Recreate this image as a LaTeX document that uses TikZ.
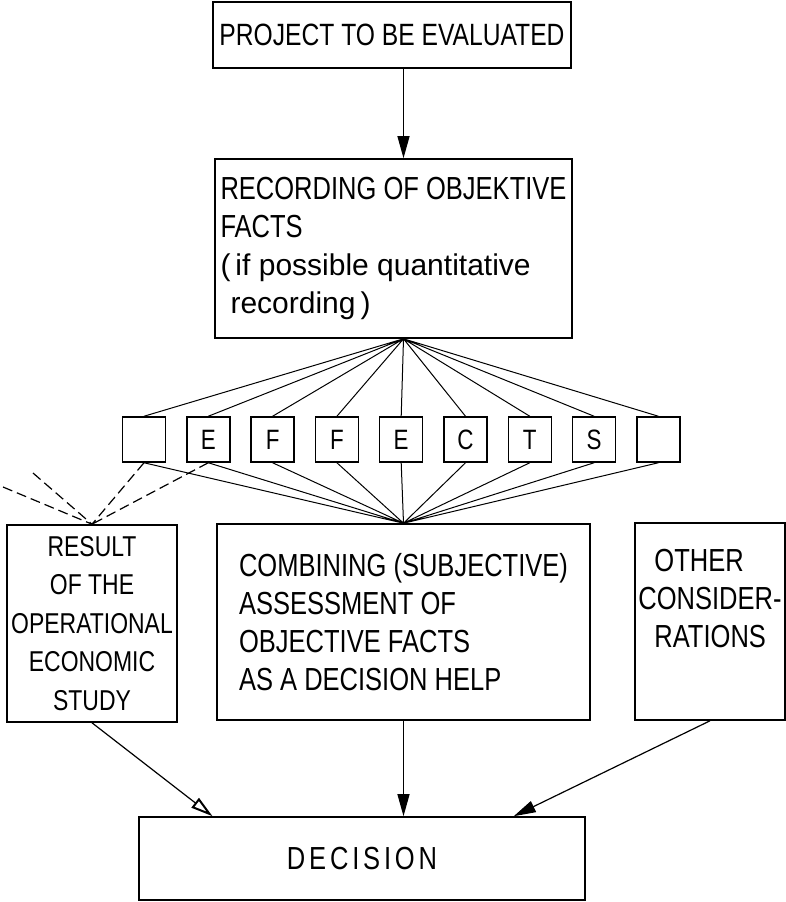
\documentclass[tikz,border=0pt]{standalone}
\usepackage{fontspec}
\setmainfont{Liberation Sans}[FakeStretch=0.8]
\newfontfamily\widefont{Liberation Sans}
\usepackage{tikz}
\usetikzlibrary{arrows.meta,positioning,calc}

\begin{document}
\begin{tikzpicture}[
    x=1pt, y=-1pt,
    node distance=19.8pt,
    box1/.style={rectangle, draw=black, line width=1.6pt, inner sep=0pt, align=center, font=\fontsize{31.9}{38}\selectfont},
    box2/.style={rectangle, draw=black, line width=1.5pt, inner sep=0pt, minimum width=43pt, minimum height=45pt, font=\fontsize{28}{30}\selectfont},
    fan/.style={line width=1pt},
    dashline/.style={line width=1.2pt, dash pattern=on 10pt off 5pt},
    arrow/.style={-{Triangle[length=22pt, width=12pt]}, line width=1.2pt},
    openarrow/.style={-{Triangle[open, length=22pt, width=12pt, line width=2pt]}, line width=1.2pt}
]
    \useasboundingbox (0,0) rectangle (786,902);

    \node [box1, minimum width=358pt, minimum height=66pt, font=\fontsize{30.8}{36}\selectfont] (n1) at (392,35) {PROJECT TO BE EVALUATED};
    \node [box1, align=left, minimum width=357pt, minimum height=179pt] (n2) at (393.5,248.5) {RECORDING OF OBJEKTIVE\\FACTS\\{\widefont\fontsize{30}{38}\selectfont (\,if possible quantitative}\\\hspace*{10pt}{\widefont\fontsize{30}{38}\selectfont recording\,)}};

    \node [box2] (e1) at (144,439.5) {};
    \node [box2, right=of e1] (e2) {E};
    \node [box2, right=of e2] (e3) {F};
    \node [box2, right=of e3] (e4) {F};
    \node [box2, right=of e4] (e5) {E};
    \node [box2, right=of e5] (e6) {C};
    \node [box2, right=of e6] (e7) {T};
    \node [box2, right=of e7] (e8) {S};
    \node [box2, right=of e8] (e9) {};

    \node [box1, minimum width=170pt, minimum height=197pt, font=\fontsize{28.7}{38.5}\selectfont] (n3) at (92,623.5) {RESULT\\OF THE\\OPERATIONAL\\ECONOMIC\\STUDY};
    \node [box1, align=left, minimum width=373pt, minimum height=196pt] (n4) at (403.5,622) {COMBINING (SUBJECTIVE)\\ASSESSMENT OF\\OBJECTIVE FACTS\\AS A DECISION HELP};
    \node [box1, minimum width=150pt, minimum height=197pt] (n5) at (710,621.5) {};
    \node [align=left, anchor=north west, inner sep=0pt, font=\fontsize{31.9}{38}\selectfont] (n5t) at ($(n5.north west)+(4,27)$) {\hspace*{16pt}OTHER\\CONSIDER-\\\hspace*{16pt}RATIONS};
    \node [box1, minimum width=446pt, minimum height=83pt, font=\fontsize{31.9}{38}\selectfont\addfontfeature{LetterSpace=12}] (n6) at (362,858.5) {DECISION};

    \coordinate (c1) at (3,487);
    \coordinate (c2) at (33,473);

    \draw [arrow] (n1.south -| n4.north) -- (n2.north -| n4.north);
    \draw [fan] (n2.south -| n4.north) -- (e1.north) (n2.south -| n4.north) -- (e2.north) (n2.south -| n4.north) -- (e3.north)
        (n2.south -| n4.north) -- (e4.north) (n2.south -| n4.north) -- (e5.north) (n2.south -| n4.north) -- (e6.north)
        (n2.south -| n4.north) -- (e7.north) (n2.south -| n4.north) -- (e8.north) (n2.south -| n4.north) -- (e9.north);
    \draw [fan] (e1.south) -- (n4.north) (e2.south) -- (n4.north) (e3.south) -- (n4.north) (e4.south) -- (n4.north) (e5.south) -- (n4.north)
        (e6.south) -- (n4.north) (e7.south) -- (n4.north) (e8.south) -- (n4.north) (e9.south) -- (n4.north);
    \draw [dashline] (e1.south) -- (n3.north) (e2.south) -- (n3.north) (c1) -- (n3.north) (c2) -- (n3.north);

    \draw [openarrow] (n3.south) -- ($(n6.north west)!0.166!(n6.north east)$);
    \draw [arrow] (n4.south) -- (n6.north -| n4.south);
    \draw [arrow] (n5.south) -- ($(n6.north west)!0.839!(n6.north east)$);
\end{tikzpicture}
\end{document}
